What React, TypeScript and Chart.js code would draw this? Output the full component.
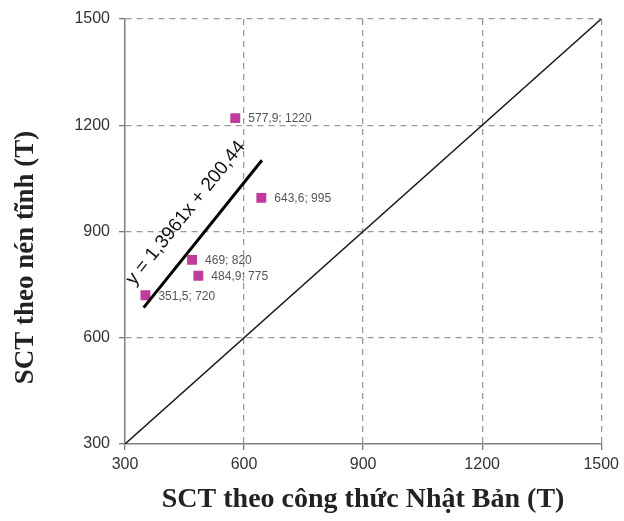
import React, { useEffect, useRef } from "react";
import { Chart, registerables } from "chart.js";

Chart.register(...registerables);

const pointX = [351.5, 469, 484.9, 577.9, 643.6];
const pointY = [720, 820, 775, 1220, 995];
const trendX = [347, 645];
const trendY = [685, 1101];
const diagX = [300, 1500];
const diagY = [300, 1500];
const tickValues = [300, 600, 900, 1200, 1500];
const equationText = "y = 1,3961x + 200,44";
const xTitle = "SCT theo công thức Nhật Bản (T)";
const yTitle = "SCT theo nén tĩnh (T)";

const fmt = (v: number) => String(v).replace(".", ",");

const labelPlugin = {
  id: "pointLabels",
  afterDatasetsDraw(chart: any) {
    const ctx = chart.ctx;
    const xs = chart.scales.x;
    const ys = chart.scales.y;
    const area = chart.chartArea;
    ctx.save();
    ctx.font = "12px 'Liberation Sans', Arial, sans-serif";
    ctx.fillStyle = "#555";
    ctx.textAlign = "left";
    ctx.textBaseline = "middle";
    pointX.forEach((x, i) => {
      const px = xs.getPixelForValue(x);
      const py = ys.getPixelForValue(pointY[i]);
      ctx.fillText(fmt(x) + "; " + pointY[i], px + 13, py + 1);
    });
    ctx.restore();

    // y-axis title
    ctx.save();
    ctx.translate(area.left - 99, (area.top + area.bottom) / 2 + 26);
    ctx.rotate(-Math.PI / 2);
    ctx.font = "bold 27px 'Liberation Serif', 'Times New Roman', serif";
    ctx.fillStyle = "#222";
    ctx.textAlign = "center";
    ctx.textBaseline = "middle";
    ctx.fillText(yTitle, 0, 0);
    ctx.restore();

    // equation text along the trendline
    ctx.save();
    const x0 = xs.getPixelForValue(trendX[0]);
    const y0 = ys.getPixelForValue(trendY[0]);
    const x1 = xs.getPixelForValue(trendX[1]);
    const y1 = ys.getPixelForValue(trendY[1]);
    const ang = Math.atan2(y1 - y0, x1 - x0);
    const mx = x0 + (x1 - x0) * 0.53;
    const my = y0 + (y1 - y0) * 0.53;
    const off = 21;
    ctx.translate(mx + Math.sin(ang) * off, my - Math.cos(ang) * off);
    ctx.rotate(ang);
    ctx.font = "19px 'Liberation Sans', Arial, sans-serif";
    ctx.fillStyle = "#111";
    ctx.textAlign = "center";
    ctx.fillText(equationText, 0, 0);
    ctx.restore();
  },
};

export default function App() {
  const ref = useRef<HTMLCanvasElement | null>(null);
  useEffect(() => {
    if (!ref.current) return;
    const tickFont = { family: "'Liberation Sans', Arial, sans-serif", size: 16 };
    const titleFont = { family: "'Liberation Serif', 'Times New Roman', serif", size: 28, weight: "bold" as const };
    const gridColor = (c: any) => (c.tick && c.tick.value === 300 ? "rgba(0,0,0,0)" : "#999");
    const tickCb = (v: any) => String(v);
    const chart = new Chart(ref.current, {
      type: "scatter",
      data: {
        datasets: [
          {
            label: "diag",
            type: "line",
            data: diagX.map((x, i) => ({ x, y: diagY[i] })),
            borderColor: "#1a1a1a",
            borderWidth: 1.5,
            pointRadius: 0,
          },
          {
            label: "trend",
            type: "line",
            data: trendX.map((x, i) => ({ x, y: trendY[i] })),
            borderColor: "#000",
            borderWidth: 3,
            pointRadius: 0,
          },
          {
            label: "points",
            data: pointX.map((x, i) => ({ x, y: pointY[i] })),
            pointStyle: "rect",
            pointRadius: 7,
            backgroundColor: "#c03c9c",
            borderColor: "#c03c9c",
            borderWidth: 0,
          },
        ],
      },
      options: {
        animation: false,
        responsive: false,
        layout: { padding: { top: 19, right: 22, left: 0, bottom: 0 } },
        plugins: { legend: { display: false }, tooltip: { enabled: false } },
        scales: {
          x: {
            type: "linear",
            min: 300,
            max: 1500,
            afterBuildTicks: (s: any) => { s.ticks = tickValues.map((v) => ({ value: v })); },
            afterFit: (s: any) => { s.height = 77; },
            ticks: { font: tickFont, color: "#333", padding: 5, callback: tickCb },
            grid: { color: gridColor, tickColor: "#777", tickLength: 6, lineWidth: 1.3 },
            border: { display: true, color: "#808080", width: 1.5, dash: [6, 5] },
            title: { display: true, text: xTitle, font: titleFont, color: "#222", padding: { top: 0, bottom: 4 } },
          },
          y: {
            type: "linear",
            min: 300,
            max: 1500,
            afterBuildTicks: (s: any) => { s.ticks = tickValues.map((v) => ({ value: v })); },
            afterFit: (s: any) => { s.width = 125; },
            ticks: { font: tickFont, color: "#333", padding: 9, callback: tickCb },
            grid: { color: gridColor, tickColor: "#777", tickLength: 6, lineWidth: 1.3 },
            border: { display: true, color: "#808080", width: 1.5, dash: [6, 5] },
            title: { display: false },
          },
        },
      },
      plugins: [labelPlugin],
    } as any);
    return () => chart.destroy();
  }, []);
  return (
    <div style={{ position: "absolute", left: 0, top: 0, width: 624, height: 521, background: "#fff" }}>
      <canvas ref={ref} width={624} height={521} />
    </div>
  );
}
